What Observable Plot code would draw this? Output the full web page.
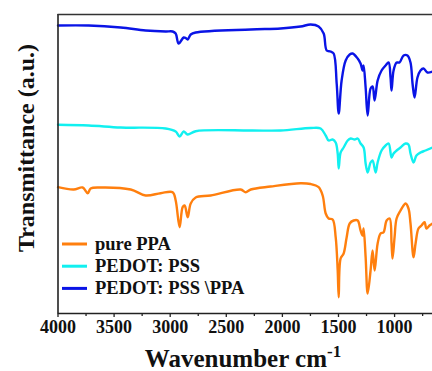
<!DOCTYPE html>
<html>
<head>
<meta charset="utf-8">
<script src="https://cdn.jsdelivr.net/npm/d3@7"></script>
<script src="https://cdn.jsdelivr.net/npm/@observablehq/plot@0.6"></script>
<style>
  html, body { margin: 0; padding: 0; background: #fff; }
  #chart { width: 432px; height: 371px; }
</style>
</head>
<body>
<div id="chart"></div>
<script>
// Series names and colors
const seriesNames = ["pure PPA", "PEDOT: PSS", "PEDOT: PSS \\PPA"];
const seriesColors = ["#ff7f0e", "#11f0f0", "#0a14e6"];

// Wavenumbers (cm-1) and transmittance (a.u., offset stacked) per series
const blueWn = [4000,3726,3441,3219,3040,2978,2951,2925,2880,2862,2844,2817,2773,2282,2016,1838,1748,1677,1632,1605,1570,1543,1516,1498,1472,1436,1400,1374,1329,1303,1285,1276,1258,1240,1214,1196,1178,1151,1116,1080,1053,1036,1027,1009,982,956,920,885,858,840,822,796,769,742,707,662];
const blueT  = [288,288,286,283,282,282,280,270,276,275.5,274,279,281,284,285,287,289,287,280,263,262,260,230,200,233,253,259,260,255,250,243,248,226,198,225,227,213,233,243,248,251,236,223,243,251,251,258,258,251,230,216,236,243,245,241,242];

const cyanWn = [4000,3726,3441,3040,2951,2916,2880,2844,2773,2282,2016,1748,1659,1614,1588,1552,1525,1507,1498,1481,1454,1418,1391,1356,1329,1303,1276,1258,1240,1214,1196,1169,1151,1116,1080,1053,1027,1009,982,947,902,876,858,831,805,769,724,662];
const cyanT  = [188.7,188,186,185,182,177,182,179,182.3,183,183,185.5,185,178,173,174,171,160,145,161,166,173,175,174,175,170,166,150,141,151,153,141,151,163,168,170,156,160,163,166,170,169,160,151,158,161,163,166];

const orangeWn = [4000,3860,3780,3735,3709,3620,3352,3219,3085,2978,2951,2916,2889,2871,2844,2817,2773,2639,2372,2327,2282,2105,1838,1748,1677,1641,1614,1588,1552,1525,1507,1498,1481,1454,1427,1400,1365,1329,1303,1285,1276,1258,1240,1214,1196,1178,1151,1125,1098,1071,1044,1027,1018,1000,982,947,920,902,876,858,831,813,787,760,733,716,689,662];
const orangeT  = [126.3,124,126,120.3,125,126,124,118,120.3,121.3,113,86.3,106.3,108,96.3,110,116,118,124,121.3,124,127,130.3,129.5,126.3,118,100,95,94,76.3,43,16.3,55,60,76.3,90,93,93,83,78,85,56.3,20,43,63,43,70,80,81.3,93,95,70,55,76.3,95,103,108,110,105,90,56.3,70,85,88,91.3,85,88,90];

// Axis ticks
const majorTicks = [4000, 3500, 3000, 2500, 2000, 1500, 1000];
const minorTicks = [3750, 3250, 2750, 2250, 1750, 1250, 750];
const xDomain = [4000, 662];
const yDomain = [0, 299];

const toRows = (wn, t, s) => wn.map((w, i) => ({wn: w, t: t[i], series: s}));
const data = [
  ...toRows(orangeWn, orangeT, seriesNames[0]),
  ...toRows(cyanWn, cyanT, seriesNames[1]),
  ...toRows(blueWn, blueT, seriesNames[2])
];

const serif = "'Liberation Serif', 'Times New Roman', serif";

const chart = Plot.plot({
  width: 432,
  height: 371,
  marginLeft: 57.5,
  marginRight: 0,
  marginTop: 14,
  marginBottom: 58,
  style: {fontFamily: serif, background: "#fff", overflow: "visible"},
  x: {domain: xDomain},
  y: {domain: yDomain},
  color: {domain: seriesNames, range: seriesColors},
  marks: [
    Plot.line(data, {x: "wn", y: "t", z: "series", stroke: "series", strokeWidth: 2.4, curve: "catmull-rom", strokeLinejoin: "round"}),
    Plot.ruleX([xDomain[0]], {stroke: "#222", strokeWidth: 1.6}),
    Plot.ruleY([yDomain[1]], {stroke: "#333", strokeWidth: 1.6}),
    Plot.ruleY([yDomain[0]], {stroke: "#222", strokeWidth: 1.6}),
    Plot.axisX(majorTicks, {tickSize: 4, tickPadding: 3, fontSize: 18, fontWeight: "bold", fill: "#111", stroke: "#222", strokeWidth: 1.3, label: null, tickFormat: d => String(d)}),
    Plot.axisX(minorTicks, {tickSize: 3, tickFormat: () => "", stroke: "#222", strokeWidth: 1.3, label: null}),
    Plot.axisY({ticks: [], label: null})
  ]
});

const svg = d3.select(chart);

// Y axis title
svg.append("text")
  .attr("transform", "translate(33.5,148) rotate(-90)")
  .attr("text-anchor", "middle")
  .attr("font-family", serif)
  .attr("font-weight", "bold")
  .attr("font-size", 24)
  .attr("fill", "#111")
  .text("Transmittance (a.u.)");

// X axis title with superscript
const xt = svg.append("text")
  .attr("x", 243)
  .attr("y", 367)
  .attr("text-anchor", "middle")
  .attr("font-family", serif)
  .attr("font-weight", "bold")
  .attr("font-size", 25)
  .attr("fill", "#111");
xt.append("tspan").text("Wavenumber cm");
xt.append("tspan").attr("font-size", 17).attr("dy", -10).text("-1");

// Legend
const lg = svg.append("g").attr("transform", "translate(62,244)");
seriesNames.forEach((name, i) => {
  const g = lg.append("g").attr("transform", `translate(0,${i * 22.2})`);
  g.append("line").attr("x1", 0).attr("x2", 25).attr("y1", 0).attr("y2", 0)
    .attr("stroke", seriesColors[i]).attr("stroke-width", 3);
  g.append("text").attr("x", 33).attr("y", 6)
    .attr("text-anchor", "start")
    .attr("font-family", serif).attr("font-weight", "bold").attr("font-size", 18.5)
    .attr("fill", "#111").text(name);
});

document.getElementById("chart").appendChild(chart);
</script>
</body>
</html>
